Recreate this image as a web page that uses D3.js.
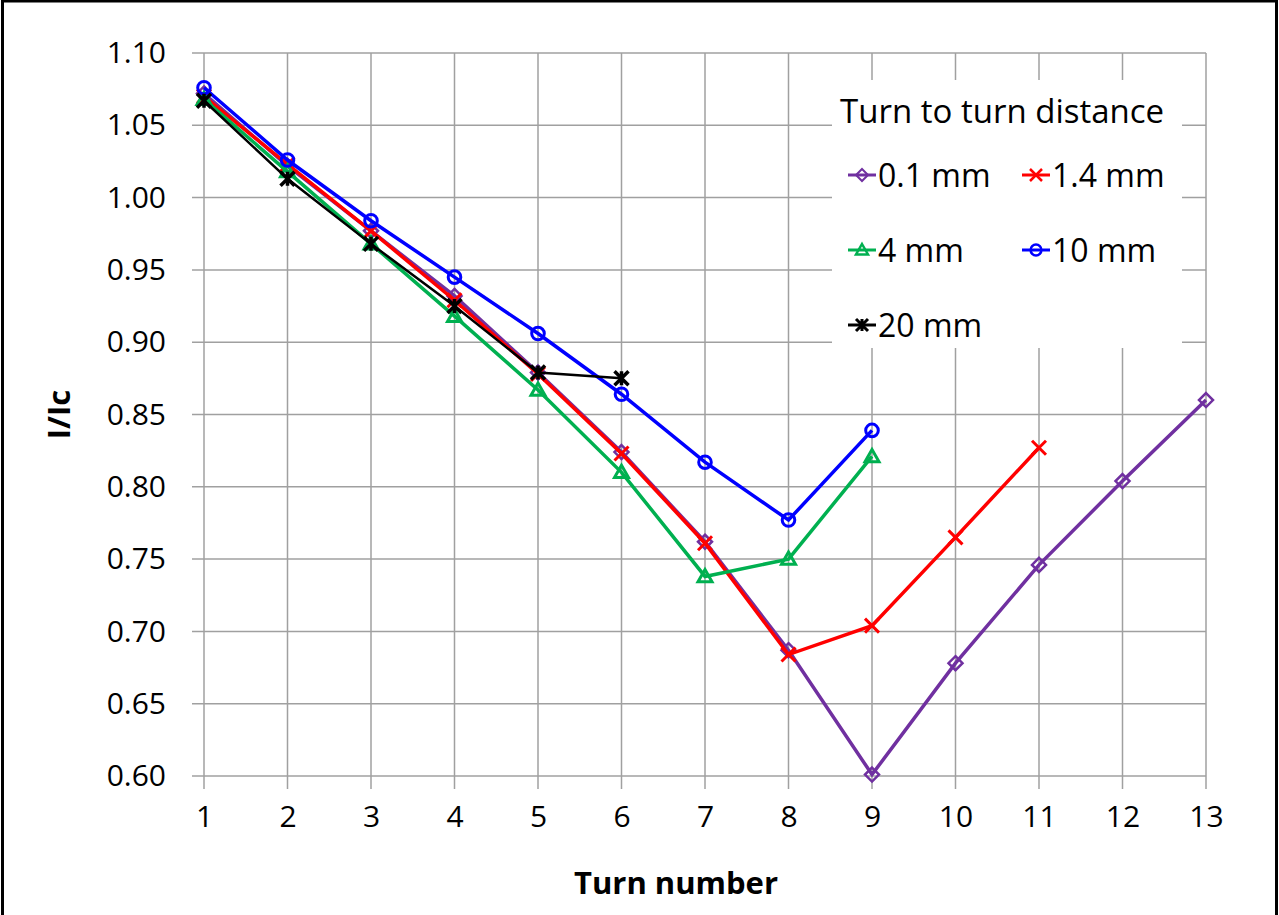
<!DOCTYPE html>
<html>
<head>
<meta charset="utf-8">
<script src="https://cdn.jsdelivr.net/npm/d3@7"></script>
<style>
  body { margin: 0; background: #fff; }
  svg { display: block; font-family: "Open Sans", Lato, sans-serif; }
</style>
</head>
<body>
<script>
// turn numbers per series
let turns01 = [1, 2, 3, 4, 5, 6, 7, 8, 9, 10, 11, 12, 13];
let turns14 = [1, 2, 3, 4, 5, 6, 7, 8, 9, 10, 11];
let turns4 = [1, 2, 3, 4, 5, 6, 7, 8, 9];
let turns10 = [1, 2, 3, 4, 5, 6, 7, 8, 9];
let turns20 = [1, 2, 3, 4, 5, 6];

// I/Ic values
let vals01 = [1.072, 1.022, 0.977, 0.932, 0.879, 0.824, 0.762, 0.687, 0.601, 0.678, 0.746, 0.804, 0.860];
let vals14 = [1.070, 1.023, 0.977, 0.929, 0.878, 0.823, 0.761, 0.684, 0.704, 0.765, 0.827];
let vals4 = [1.068, 1.018, 0.968, 0.918, 0.867, 0.810, 0.738, 0.750, 0.821];
let vals10 = [1.076, 1.026, 0.984, 0.945, 0.906, 0.864, 0.817, 0.777, 0.839];
let vals20 = [1.067, 1.013, 0.968, 0.925, 0.879, 0.875];

let seriesNames = ["0.1 mm", "1.4 mm", "4 mm", "10 mm", "20 mm"];
let xTicks = [1, 2, 3, 4, 5, 6, 7, 8, 9, 10, 11, 12, 13];
let yTicks = [0.60, 0.65, 0.70, 0.75, 0.80, 0.85, 0.90, 0.95, 1.00, 1.05, 1.10];

let series = [
  {name: seriesNames[0], x: turns01, y: vals01, color: "#7030a0", marker: "diamond"},
  {name: seriesNames[1], x: turns14, y: vals14, color: "#ff0000", marker: "cross"},
  {name: seriesNames[2], x: turns4, y: vals4, color: "#00b050", marker: "triangle"},
  {name: seriesNames[3], x: turns10, y: vals10, color: "#0000ff", marker: "circle"},
  {name: seriesNames[4], x: turns20, y: vals20, color: "#000000", marker: "star"}
];

let W = 1279, H = 915;
let margin = {top: 53, right: 73, bottom: 139, left: 204},
    width = W - margin.left - margin.right,
    height = H - margin.top - margin.bottom;

let svg = d3.select("body").append("svg")
  .attr("width", W)
  .attr("height", H);

// outer frame
svg.append("rect")
  .attr("x", 2.5).attr("y", 1)
  .attr("width", W - 5).attr("height", H + 20)
  .attr("fill", "none").attr("stroke", "#000").attr("stroke-width", 3);

let g = svg.append("g")
  .attr("transform", `translate(${margin.left}, ${margin.top})`);

let x = d3.scaleLinear().domain([1, 13]).range([0, width]);
let y = d3.scaleLinear().domain([0.60, 1.10]).range([height, 0]);

// grid lines
g.append("g")
  .selectAll("line")
  .data(yTicks)
  .enter().append("line")
    .attr("x1", -12).attr("x2", width)
    .attr("y1", d => y(d)).attr("y2", d => y(d))
    .attr("stroke", "#a0a0a0").attr("stroke-width", 1.5);

g.append("g")
  .selectAll("line")
  .data(xTicks)
  .enter().append("line")
    .attr("x1", d => x(d)).attr("x2", d => x(d))
    .attr("y1", 0).attr("y2", height + 13)
    .attr("stroke", "#a0a0a0").attr("stroke-width", 1.5);

// axes labels
const yAxis = d3.axisLeft(y).tickValues(yTicks).tickFormat(d3.format(".2f")).tickSize(0).tickPadding(38);
const xAxis = d3.axisBottom(x).tickValues(xTicks).tickFormat(d3.format("d")).tickSize(0).tickPadding(30);

let ya = g.append("g").call(yAxis);
let xa = g.append("g").attr("transform", `translate(0, ${height})`).call(xAxis);
[ya, xa].forEach(a => {
  a.select(".domain").remove();
  a.selectAll("text").attr("font-size", 30).attr("font-family", "'Open Sans', sans-serif").attr("fill", "#000");
});

// axis titles
svg.append("text")
  .attr("transform", `translate(70, ${margin.top + height / 2}) rotate(-90)`)
  .attr("text-anchor", "middle")
  .attr("font-size", 31).attr("font-weight", "bold")
  .text("I/Ic");

svg.append("text")
  .attr("x", 676).attr("y", 894)
  .attr("text-anchor", "middle")
  .attr("font-size", 31).attr("font-weight", "bold")
  .text("Turn number");

// markers
function drawMarker(sel, type, color, s, sw) {
  if (type === "diamond") {
    sel.append("path").attr("d", `M0,${-s}L${s},0L0,${s}L${-s},0Z`)
      .attr("fill", "none").attr("stroke", color).attr("stroke-width", sw - 0.5);
  } else if (type === "cross") {
    sel.append("path").attr("d", `M${-s},${-s}L${s},${s}M${-s},${s}L${s},${-s}`)
      .attr("stroke", color).attr("stroke-width", sw);
  } else if (type === "triangle") {
    sel.append("path").attr("d", `M0,${-s}L${s},${s * 0.75}L${-s},${s * 0.75}Z`)
      .attr("fill", "none").attr("stroke", color).attr("stroke-width", sw);
  } else if (type === "circle") {
    sel.append("circle").attr("r", s * 0.9)
      .attr("fill", "none").attr("stroke", color).attr("stroke-width", sw);
  } else if (type === "star") {
    sel.append("path").attr("d", `M${-s},${-s}L${s},${s}M${-s},${s}L${s},${-s}M0,${-s}L0,${s}`)
      .attr("stroke", color).attr("stroke-width", sw + 0.5);
  }
}

let line = d3.line().x(d => x(d[0])).y(d => y(d[1]));

series.forEach(s => {
  let pts = s.x.map((t, i) => [t, s.y[i]]);
  let sg = g.append("g");
  sg.append("path")
    .datum(pts)
    .attr("d", line)
    .attr("fill", "none")
    .attr("stroke", s.color)
    .attr("stroke-width", s.marker === "star" ? 2.5 : 3.5);
  sg.selectAll("g.pt")
    .data(pts)
    .enter().append("g")
      .attr("class", "pt")
      .attr("transform", d => `translate(${x(d[0])}, ${y(d[1])})`)
      .each(function() { drawMarker(d3.select(this), s.marker, s.color, 7, 3); });
});

// legend
let lg = svg.append("g").attr("transform", "translate(832, 80)");
lg.append("rect").attr("width", 350).attr("height", 268).attr("fill", "#fff");
lg.append("text").attr("x", 8).attr("y", 43)
  .attr("font-size", 33).text("Turn to turn distance");

let legPos = [[16, 95], [190, 95], [16, 170], [190, 170], [16, 245]];
series.forEach((s, i) => {
  let e = lg.append("g").attr("transform", `translate(${legPos[i][0]}, ${legPos[i][1]})`);
  e.append("line").attr("x1", 0).attr("x2", 28)
    .attr("stroke", s.color).attr("stroke-width", 3);
  let m = e.append("g").attr("transform", "translate(14, 0)");
  drawMarker(m, s.marker, s.color, 6, 2.5);
  e.append("text").attr("x", 30).attr("y", 12)
    .attr("font-size", 32).text(s.name);
});
</script>
</body>
</html>
